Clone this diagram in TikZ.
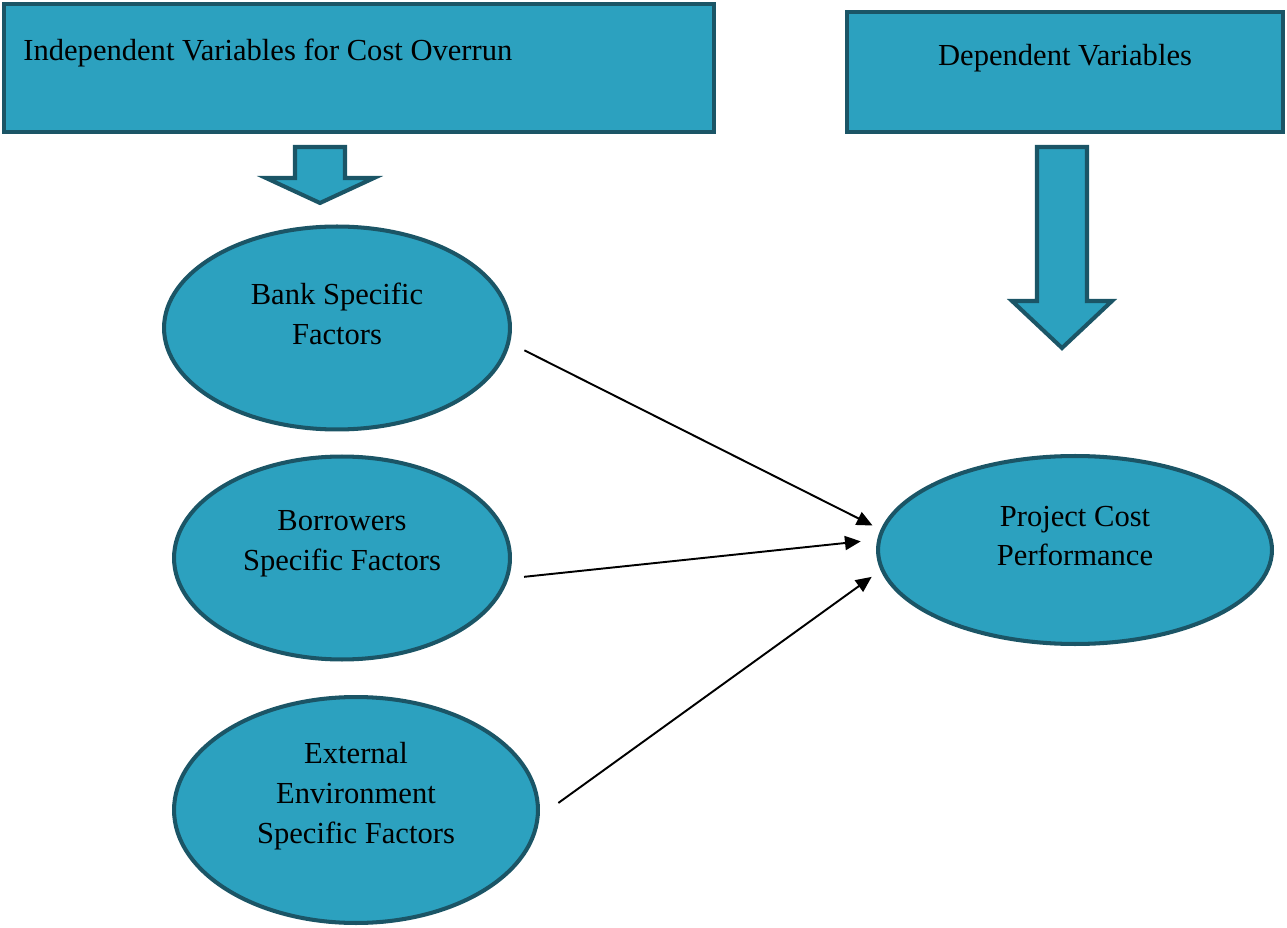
\documentclass[tikz,border=0pt]{standalone}
\usepackage{fontspec}
\setmainfont{Liberation Serif}
\usetikzlibrary{shapes.geometric,arrows.meta}
\definecolor{tealfill}{HTML}{2CA1BF}
\definecolor{tealedge}{HTML}{1B5566}
\tikzset{
    box/.style={rectangle, draw=tealedge, fill=tealfill, line width=2.3pt, inner sep=0pt},
    oval/.style={ellipse, draw=tealedge, fill=tealfill, line width=2.3pt, inner sep=0pt},
    ovaltext/.style={align=center, inner sep=0pt, yshift=0.28cm},
    blockarrow/.style={draw=tealedge, fill=tealfill, line width=2.3pt},
    link/.style={-{Triangle[length=9pt,width=8pt]}, line width=1.1pt, black}
}
\newcommand{\BlockArrow}[6]{
    \draw[blockarrow] (#1-#2,#4) -- (#1+#2,#4) -- (#1+#2,#5) -- (#1+#3,#5)
        -- (#1,#6) -- (#1-#3,#5) -- (#1-#2,#5) -- cycle;
}
\begin{document}
\begin{tikzpicture}[x=0.02cm, y=-0.02cm, font=\fontsize{17.4}{22.7}\selectfont]
    \useasboundingbox (0,0) rectangle (1287,928);
    % headers
    \node[box, minimum width=14.2cm, minimum height=2.56cm,
        label={[anchor=west, inner sep=0pt, xshift=0.42cm, yshift=0.3cm]180:Independent Variables for Cost Overrun}]
        (indep) at (359,68) {};
    \node[box, minimum width=8.72cm, minimum height=2.4cm,
        label={[ovaltext]center:Dependent Variables}] (dep) at (1065,72) {};
    % block arrows
    \BlockArrow{320}{25}{54}{147}{178}{203}
    \BlockArrow{1062}{25}{50}{147}{301}{348}
    % factors
    \node[oval, minimum width=6.92cm, minimum height=4.06cm,
        label={[ovaltext]center:{Bank Specific\\Factors}}] (bank) at (337,328) {};
    \node[oval, minimum width=6.72cm, minimum height=4.06cm,
        label={[ovaltext]center:{Borrowers\\Specific Factors}}] (borrow) at (342,558) {};
    \node[oval, minimum width=7.28cm, minimum height=4.52cm,
        label={[ovaltext]center:{External\\Environment\\Specific Factors}}] (extern) at (356,810) {};
    \node[oval, minimum width=7.88cm, minimum height=3.76cm,
        label={[ovaltext]center:{Project Cost\\Performance}}] (perf) at (1075,550) {};
    % links
    \draw[link, shorten <=0.32cm, shorten >=0.18cm] (bank.-5.2) -- (perf.174.65);
    \draw[link, shorten <=0.31cm, shorten >=0.33cm] (borrow.-7) -- (perf.177.6);
    \draw[link, shorten <=0.46cm, shorten >=0.22cm] (extern.-2.7) -- (perf.186.1);
\end{tikzpicture}
\end{document}
